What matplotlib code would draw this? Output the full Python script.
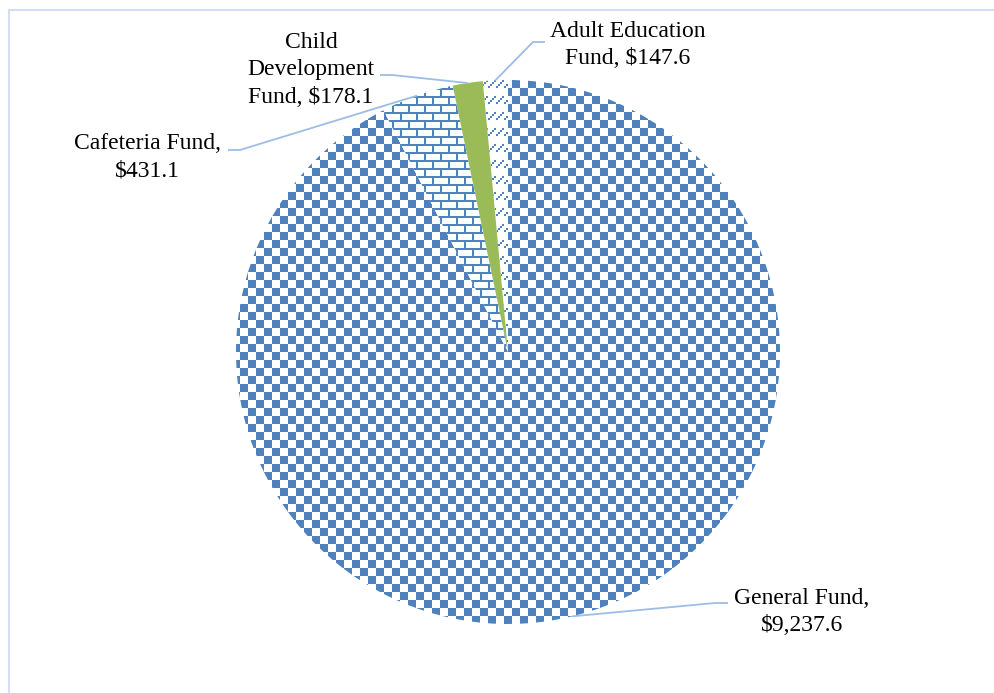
import numpy as np
import matplotlib
matplotlib.use("Agg")
import matplotlib.pyplot as plt
from matplotlib.patches import Rectangle

# ---- data ----
categories = ["General Fund", "Cafeteria Fund", "Child Development Fund", "Adult Education Fund"]
values = [9237.6, 431.1, 178.1, 147.6]
label_texts = ["General Fund,\n$9,237.6", "Cafeteria Fund,\n$431.1",
               "Child\nDevelopment\nFund, $178.1", "Adult Education\nFund, $147.6"]

W, H = 994, 693
BLUE = np.array([79, 129, 189, 255], dtype=np.uint8)
GREEN = "#9BBB59"
LEADER = "#9DBDE6"

fig = plt.figure(figsize=(W / 100, H / 100), dpi=100)
ax = fig.add_axes([0, 0, 1, 1])
ax.set_xlim(0, W)
ax.set_ylim(0, H)
ax.set_aspect("equal")
ax.axis("off")

cx, cy, R = 508, H - 352, 272
wedges, _ = ax.pie(values, startangle=90, counterclock=False, center=(cx, cy),
                   radius=R, frame=True,
                   colors=["none", "none", GREEN, "none"],
                   wedgeprops=dict(linewidth=0))
ax.set_xlim(0, W)
ax.set_ylim(0, H)
ax.axis("off")

# ---- pattern images (Excel-like 8x8 patterns at 2x) ----
r, c = np.mgrid[0:H, 0:W]
br = (r // 2) % 8
bc8 = (c // 2) % 8
checker = ((r // 8) + (c // 8)) % 2 == 0
brick = (br == 0) | (br == 4) | ((br >= 1) & (br <= 3) & (bc8 == 0)) | ((br >= 5) & (bc8 == 4))
bc4 = (c // 2) % 4
dashdiag = (br < 4) & (bc4 == 3 - br)

def pattern_img(mask):
    img = np.zeros((H, W, 4), dtype=np.uint8)
    img[..., :3] = 255
    img[..., 3] = 255
    img[mask] = BLUE
    return img

patterns = {0: checker, 1: brick, 3: dashdiag}
for idx, mask in patterns.items():
    im = ax.imshow(pattern_img(mask), extent=[0, W, 0, H], origin="upper",
                   interpolation="nearest", zorder=2)
    im.set_clip_path(wedges[idx])
wedges[2].set_zorder(3)
ax.set_xlim(0, W)
ax.set_ylim(0, H)

# ---- labels and leader lines ----
# (text center x, text center y, knee x, knee y, end x)
label_layout = [
    (802, 612, 715, 603, 728),
    (147, 157, 240, 150, 228),
    (311, 70, 392, 75, 380),
    (628, 45, 533, 42, 545),
]
for w, txt, (tx, ty, kx, ky, ex) in zip(wedges, label_texts, label_layout):
    mid = np.deg2rad((w.theta1 + w.theta2) / 2)
    px = cx + R * np.cos(mid)
    py = cy + R * np.sin(mid)
    ax.plot([px, kx, ex], [py, H - ky, H - ky], color=LEADER, lw=1.3,
            solid_capstyle="butt", zorder=4)
    ax.text(tx, H - ty, txt, ha="center", va="center", fontsize=17,
            family="Liberation Serif", linespacing=1.38, zorder=5)

# chart area border (extends beyond right/bottom)
ax.add_patch(Rectangle((9, -20), W + 50, H - 10 + 20, fill=False,
                       edgecolor="#D4DEEE", lw=1.5, zorder=1, clip_on=False))

fig.savefig("out.png", dpi=100)
